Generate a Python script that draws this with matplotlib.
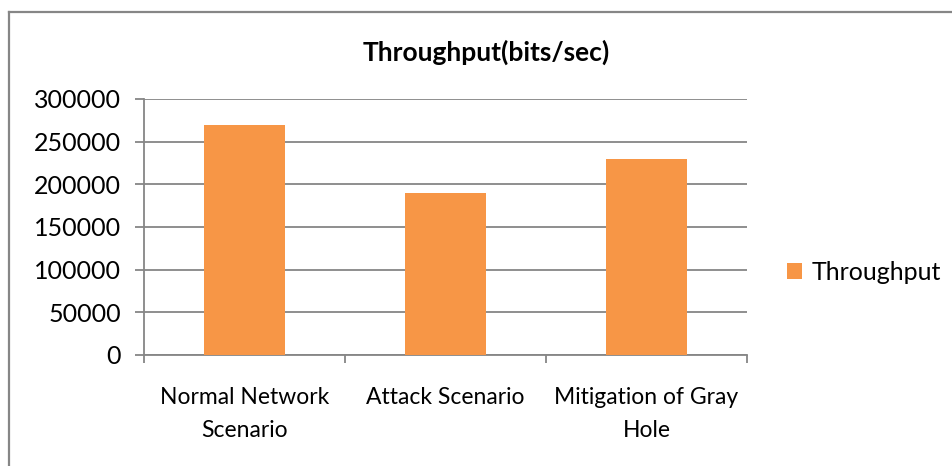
import matplotlib
matplotlib.use("Agg")
import matplotlib.pyplot as plt
from matplotlib.lines import Line2D

# === DADOS ===
categorias = ["Normal Network\nScenario", "Attack Scenario", "Mitigation of Gray\nHole"]
throughput = [270000, 190000, 230000]
yticks = [0, 50000, 100000, 150000, 200000, 250000, 300000]

COR_BARRA = "#F79646"
COR_EIXO = "#868686"

plt.rcParams["font.family"] = ["Lato", "DejaVu Sans"]

fig = plt.figure(figsize=(9.53, 4.66), dpi=100)
ax = fig.add_axes([144 / 953, 1 - 355 / 466, (747 - 144) / 953, (355 - 99) / 466])

x = list(range(len(categorias)))
ax.bar(x, throughput, width=0.4, color=COR_BARRA, label="Throughput", zorder=3)

ax.set_xlim(-0.5, len(categorias) - 0.5)
ax.set_ylim(0, 300000)
ax.set_yticks(yticks)
ax.set_yticklabels([str(v) for v in yticks], fontsize=18)
ax.yaxis.grid(True, color=COR_EIXO, linewidth=1.3, zorder=0)

# ticks entre categorias, rótulos no centro
ax.set_xticks([i - 0.5 for i in range(len(categorias) + 1)])
ax.set_xticklabels([])
ax.set_xticks(x, minor=True)
ax.set_xticklabels(categorias, minor=True, fontsize=16.5, linespacing=1.7)
ax.tick_params(axis="x", which="minor", length=0, pad=23)
ax.tick_params(axis="x", which="major", length=6, width=1.3, color=COR_EIXO, direction="out")
ax.tick_params(axis="y", length=6.5, width=1.3, color=COR_EIXO, direction="out", pad=10)

for lado in ["top", "right"]:
    ax.spines[lado].set_visible(False)
for lado in ["left", "bottom"]:
    ax.spines[lado].set_color(COR_EIXO)
    ax.spines[lado].set_linewidth(1.3)

fig.text(486 / 953, 1 - 52 / 466, "Throughput(bits/sec)", ha="center", va="center",
         fontsize=19, fontweight="bold")

ax.legend(loc="center left", bbox_to_anchor=(787 / 953, 1 - 272 / 466),
          bbox_transform=fig.transFigure, frameon=False, fontsize=18,
          borderpad=0, borderaxespad=0,
          handlelength=0.6, handleheight=0.6, handletextpad=0.4)

# moldura do gráfico (só esquerda e topo visíveis)
fig.add_artist(Line2D([9.5 / 953, 9.5 / 953], [0, 1 - 12 / 466], color=COR_EIXO, linewidth=1.6))
fig.add_artist(Line2D([9.5 / 953, 1], [1 - 12 / 466, 1 - 12 / 466], color=COR_EIXO, linewidth=1.6))

fig.savefig("out.png", dpi=100)
